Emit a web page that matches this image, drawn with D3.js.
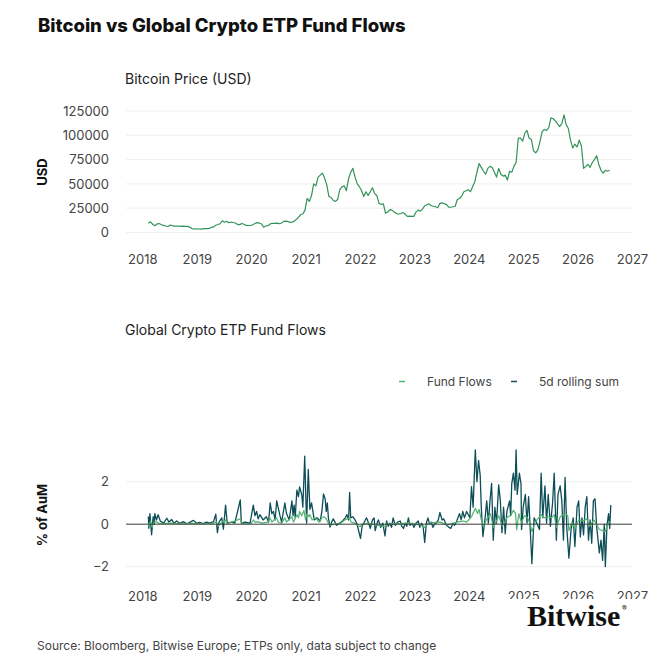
<!DOCTYPE html>
<html>
<head>
<meta charset="utf-8">
<script src="https://cdn.jsdelivr.net/npm/d3@7"></script>
<style>
body{margin:0;background:#fff;}
text{font-family:Inter, "Noto Sans", sans-serif;}
</style>
</head>
<body>
<script>
//chart data
var yearTicks = [2018,2019,2020,2021,2022,2023,2024,2025,2026,2027];
var priceTicks = [0,25000,50000,75000,100000,125000];
var flowTicks = [-2,0,2];

//bitcoin price, sampled every 0.04 year starting 2018.11
var priceStart = 2018.11, priceStep = 0.04;
var priceValues = [
  9500,11000,8500,7000,8800,9200,8000,7400,6700,6200,7500,7000,6600,6500,6600,6400,6500,6400,6300,5600,4000,3600,3800,
  3600,3500,3700,3900,4000,4100,5200,5800,7500,8200,9000,12000,10500,11500,10000,10800,10300,9800,8300,8100,9300,8500,7300,7200,7200,
  8000,9300,10200,9700,8700,5400,6700,7000,8800,9500,9300,9700,9200,9400,11200,11700,11500,10400,10700,11500,13500,15500,18500,19000,23000,
  35000,32000,38000,50000,48000,57000,59000,61000,56000,49000,37000,36000,33000,32000,34000,44000,47000,48000,43000,55000,62000,66000,57000,50000,47000,
  43000,37000,42000,38000,42000,46000,40000,38000,30000,29000,29500,20000,21000,23500,23000,21000,19500,19000,19500,20500,19000,16500,16800,16500,16600,
  21000,23000,22000,24000,27500,28500,29500,27500,27000,26500,25500,30000,30500,29500,29000,26000,26000,26500,27000,34000,35000,37500,42000,43000,44000,
  42000,47000,52000,62000,71000,67000,63000,60000,66000,68000,67000,62000,57000,66000,60000,58000,59000,54000,63000,62000,68000,72000,97000,97000,94000,
  102000,105000,97000,96000,84000,82000,85000,94000,104000,106000,105000,108000,118000,117000,115000,112000,109000,112000,121000,111000,107000,95000,87000,91000,88000,
  95000,89000,66000,68000,70000,67000,72000,75000,79000,70000,64000,61000,64000,63000,64000
];

//daily fund flows, % of AuM  [date, value]
var fundFlows = [
  [2018.11,0.05],[2018.13,-0.1],[2018.15,0.15],[2018.18,-0.15],[2018.21,0.1],[2018.25,0.12],[2018.3,0.05],[2018.4,0.03],
  [2018.5,0.05],[2018.7,0.02],[2018.9,0.04],[2019.1,0.02],[2019.3,0.03],[2019.36,0.12],[2019.39,-0.1],[2019.45,0.06],
  [2019.53,0.2],[2019.56,0.02],[2019.8,0.25],[2019.83,0.02],[2020.0,0.03],[2020.04,0.2],[2020.08,0.08],[2020.12,0.12],
  [2020.2,0.05],[2020.3,0.1],[2020.35,0.28],[2020.38,0.1],[2020.47,0.3],[2020.5,0.08],[2020.56,0.05],[2020.62,0.3],
  [2020.65,0.1],[2020.75,0.35],[2020.78,0.1],[2020.84,0.45],[2020.87,0.3],[2020.89,0.6],[2020.93,0.4],[2020.97,0.65],
  [2021.0,0.2],[2021.03,0.5],[2021.06,0.35],[2021.08,0.45],[2021.12,0.2],[2021.18,0.3],[2021.25,0.1],[2021.3,0.3],
  [2021.34,0.35],[2021.38,0.25],[2021.42,0.05],[2021.46,-0.05],[2021.55,0.02],[2021.65,0.05],[2021.72,0.2],[2021.76,0.25],
  [2021.8,0.3],[2021.84,0.1],[2021.9,0.05],[2022.0,-0.12],[2022.05,0.0],[2022.15,0.05],[2022.3,-0.05],[2022.46,-0.1],
  [2022.5,0.02],[2022.7,0.03],[2022.9,0.05],[2023.1,-0.02],[2023.19,-0.15],[2023.25,0.05],[2023.47,0.1],[2023.6,-0.03],
  [2023.83,0.12],[2023.9,0.15],[2023.96,0.1],[2024.05,0.35],[2024.12,0.75],[2024.16,0.5],[2024.19,0.7],[2024.23,0.2],
  [2024.27,-0.12],[2024.33,0.25],[2024.4,0.5],[2024.45,-0.15],[2024.5,0.1],[2024.55,0.4],[2024.62,-0.1],[2024.7,0.3],
  [2024.78,0.45],[2024.82,0.65],[2024.86,0.5],[2024.88,-0.27],[2024.92,0.5],[2024.97,0.05],[2025.02,0.4],[2025.08,0.3],
  [2025.13,0.0],[2025.16,-0.35],[2025.22,0.1],[2025.33,0.45],[2025.38,0.3],[2025.45,0.35],[2025.52,0.3],[2025.57,0.45],
  [2025.61,-0.15],[2025.68,0.35],[2025.77,0.5],[2025.82,0.4],[2025.84,-0.3],[2025.9,0.1],[2025.95,-0.2],[2026.02,0.2],
  [2026.1,0.15],[2026.17,0.25],[2026.22,-0.1],[2026.3,0.2],[2026.4,-0.25],[2026.46,-0.3],[2026.51,-0.35],[2026.55,0.0],
  [2026.61,0.15]
];

//5 day rolling sum of flows, % of AuM  [date, value]
var rollingSum = [
  [2018.11,0.36],[2018.12,-0.19],[2018.14,0.5],[2018.17,-0.5],[2018.20,0.36],[2018.22,0.0],[2018.23,0.5],[2018.26,0.2],
  [2018.29,0.45],[2018.33,0.15],[2018.39,0.05],[2018.45,0.28],[2018.49,0.1],[2018.54,0.22],[2018.58,0.05],[2018.63,0.15],
  [2018.69,0.03],[2018.75,0.12],[2018.82,0.02],[2018.88,0.1],[2018.94,0.18],[2019.00,0.05],[2019.06,0.08],[2019.12,0.03],
  [2019.18,0.1],[2019.24,0.05],[2019.31,0.12],[2019.35,0.47],[2019.38,-0.4],[2019.41,0.1],[2019.46,0.3],[2019.49,-0.23],
  [2019.53,0.9],[2019.56,0.05],[2019.64,0.1],[2019.70,0.05],[2019.80,1.14],[2019.82,0.05],[2019.89,0.1],[2019.98,0.05],
  [2020.04,0.9],[2020.07,0.4],[2020.10,0.6],[2020.13,0.25],[2020.16,0.45],[2020.22,0.2],[2020.28,0.35],[2020.32,0.1],
  [2020.35,1.0],[2020.38,0.5],[2020.41,0.6],[2020.44,0.2],[2020.47,1.1],[2020.53,0.4],[2020.56,0.1],[2020.62,1.0],
  [2020.65,0.5],[2020.70,0.2],[2020.75,1.1],[2020.77,0.4],[2020.79,0.9],[2020.81,0.3],[2020.84,1.6],[2020.87,1.3],
  [2020.89,1.75],[2020.93,1.4],[2020.95,0.8],[2020.985,3.2],[2021.01,0.8],[2021.02,0.05],[2021.05,2.58],[2021.08,0.7],
  [2021.11,1.0],[2021.16,0.2],[2021.21,0.3],[2021.27,0.15],[2021.30,0.6],[2021.33,1.42],[2021.36,1.2],[2021.38,0.6],
  [2021.40,1.0],[2021.42,0.3],[2021.45,-0.14],[2021.48,0.1],[2021.51,0.25],[2021.57,-0.05],[2021.63,0.05],[2021.68,0.15],
  [2021.73,0.3],[2021.76,0.45],[2021.79,0.2],[2021.81,1.5],[2021.83,0.3],[2021.87,0.35],[2021.91,0.2],[2021.94,0.05],
  [2021.97,-0.25],[2022.01,-0.67],[2022.04,-0.1],[2022.08,0.1],[2022.12,0.3],[2022.16,0.05],[2022.19,-0.2],[2022.23,0.2],
  [2022.26,0.3],[2022.28,-0.3],[2022.32,0.1],[2022.34,0.2],[2022.38,-0.15],[2022.42,0.05],[2022.46,-0.55],[2022.49,0.15],
  [2022.52,-0.1],[2022.55,0.05],[2022.58,-0.15],[2022.61,0.3],[2022.65,-0.05],[2022.69,0.1],[2022.74,0.15],[2022.77,-0.1],
  [2022.80,-0.2],[2022.83,0.05],[2022.86,-0.1],[2022.89,0.3],[2022.92,-0.05],[2022.96,0.05],[2022.99,-0.15],[2023.03,0.05],
  [2023.07,0.15],[2023.10,-0.15],[2023.13,0.05],[2023.16,-0.1],[2023.19,-0.86],[2023.22,0.05],[2023.25,0.3],[2023.28,0.0],
  [2023.31,0.1],[2023.34,-0.15],[2023.37,0.0],[2023.40,0.05],[2023.44,0.2],[2023.47,0.55],[2023.51,0.2],[2023.54,0.25],
  [2023.59,-0.05],[2023.64,-0.15],[2023.67,-0.2],[2023.71,0.05],[2023.74,-0.05],[2023.78,0.15],[2023.83,0.5],[2023.86,0.2],
  [2023.89,0.6],[2023.92,0.3],[2023.96,0.6],[2024.02,0.3],[2024.05,1.77],[2024.08,0.8],[2024.12,3.5],[2024.15,2.0],
  [2024.18,3.0],[2024.21,2.3],[2024.23,0.8],[2024.26,-0.58],[2024.30,0.3],[2024.33,1.1],[2024.36,0.05],[2024.39,1.1],
  [2024.42,1.92],[2024.45,-0.75],[2024.48,0.8],[2024.51,0.05],[2024.55,1.85],[2024.58,1.1],[2024.61,-0.4],[2024.64,0.8],
  [2024.67,-0.45],[2024.70,0.6],[2024.75,1.1],[2024.77,0.4],[2024.79,1.9],[2024.82,2.4],[2024.85,1.6],[2024.87,3.5],
  [2024.89,1.4],[2024.93,2.4],[2024.96,1.9],[2024.97,-0.25],[2025.00,0.8],[2025.04,1.4],[2025.07,0.05],[2025.10,1.3],
  [2025.13,-0.25],[2025.16,-1.86],[2025.20,0.3],[2025.25,0.05],[2025.30,-0.25],[2025.33,2.4],[2025.36,0.3],[2025.40,1.8],
  [2025.43,0.05],[2025.46,1.4],[2025.50,-0.1],[2025.54,1.0],[2025.57,2.4],[2025.61,-0.75],[2025.64,1.4],[2025.68,1.8],
  [2025.71,1.1],[2025.74,-0.75],[2025.77,2.2],[2025.80,-0.1],[2025.84,-1.6],[2025.88,-0.25],[2025.92,0.3],[2025.95,-1.05],
  [2025.99,0.8],[2026.02,1.1],[2026.05,-0.6],[2026.08,0.3],[2026.11,-0.5],[2026.14,0.8],[2026.17,1.3],[2026.20,-0.75],
  [2026.23,0.2],[2026.26,-0.9],[2026.29,1.1],[2026.32,1.2],[2026.35,-0.1],[2026.40,-1.35],[2026.43,-0.75],[2026.46,-1.7],
  [2026.49,0.0],[2026.51,-2.0],[2026.54,-0.05],[2026.57,0.5],[2026.59,-0.2],[2026.61,0.9]
];

var priceColor = "#32935a",
    flowColor = "#52b26f",
    rollColor = "#0d4e58";

var width = 671, height = 671;
var svg = d3.select("body").append("svg")
    .attr("width", width)
    .attr("height", height);

//shared time scale
var x = d3.scaleLinear().domain([2017.7, 2027]).range([126, 632]);
var yPrice = d3.scaleLinear().domain([0, 125000]).range([232.5, 111]);
var yFlow = d3.scaleLinear().domain([-2, 2]).range([566.7, 481.7]);

//title
svg.append("text")
    .attr("x", 38).attr("y", 32)
    .attr("font-size", 18.5).attr("font-weight", 800)
    .attr("fill", "#111")
    .text("Bitcoin vs Global Crypto ETP Fund Flows");

//------ top panel: bitcoin price
svg.append("text")
    .attr("x", 125).attr("y", 84)
    .attr("font-size", 14).attr("fill", "#222")
    .text("Bitcoin Price (USD)");

svg.selectAll(".priceGrid")
    .data(priceTicks)
    .enter().append("line")
    .attr("class", "priceGrid")
    .attr("x1", 126).attr("x2", 632)
    .attr("y1", function(d){ return yPrice(d); })
    .attr("y2", function(d){ return yPrice(d); })
    .attr("stroke", "#efefef");

var priceAxis = svg.append("g")
    .attr("transform", "translate(126,0)")
    .call(d3.axisLeft(yPrice).tickValues(priceTicks).tickSize(0).tickPadding(17).tickFormat(d3.format("d")));
styleAxis(priceAxis);

var priceXAxis = svg.append("g")
    .attr("transform", "translate(0,255)")
    .call(d3.axisBottom(x).tickValues(yearTicks).tickSize(0).tickPadding(0).tickFormat(d3.format("d")));
styleAxis(priceXAxis);

svg.append("text")
    .attr("transform", "translate(47,172) rotate(-90)")
    .attr("text-anchor", "middle")
    .attr("font-size", 13).attr("font-weight", 700).attr("fill", "#111")
    .text("USD");

var priceData = priceValues.map(function(v, i){ return [priceStart + i * priceStep, v]; });
svg.append("path")
    .datum(priceData)
    .attr("fill", "none")
    .attr("stroke", priceColor)
    .attr("stroke-width", 1.2)
    .attr("stroke-linejoin", "round")
    .attr("d", d3.line()
        .x(function(d){ return x(d[0]); })
        .y(function(d){ return yPrice(d[1]); }));

//------ bottom panel: fund flows
svg.append("text")
    .attr("x", 125).attr("y", 335)
    .attr("font-size", 14).attr("fill", "#222")
    .text("Global Crypto ETP Fund Flows");

//legend
var legendItems = [
    {name: "Fund Flows", color: flowColor, x: 399},
    {name: "5d rolling sum", color: rollColor, x: 511}
];
var legend = svg.selectAll(".legend")
    .data(legendItems)
    .enter().append("g")
    .attr("class", "legend")
    .attr("transform", function(d){ return "translate(" + d.x + ",381.5)"; });
legend.append("line")
    .attr("x1", 0).attr("x2", 6)
    .attr("stroke", function(d){ return d.color; })
    .attr("stroke-width", 1.5);
legend.append("text")
    .attr("x", 28).attr("y", 4.3)
    .attr("font-size", 12).attr("fill", "#444")
    .text(function(d){ return d.name; });

svg.selectAll(".flowGrid")
    .data(flowTicks.filter(function(d){ return d !== 0; }))
    .enter().append("line")
    .attr("class", "flowGrid")
    .attr("x1", 126).attr("x2", 632)
    .attr("y1", function(d){ return yFlow(d); })
    .attr("y2", function(d){ return yFlow(d); })
    .attr("stroke", "#efefef");

var flowAxis = svg.append("g")
    .attr("transform", "translate(126,0)")
    .call(d3.axisLeft(yFlow).tickValues(flowTicks).tickSize(0).tickPadding(17).tickFormat(d3.format("d")));
styleAxis(flowAxis);

var flowXAxis = svg.append("g")
    .attr("transform", "translate(0,592)")
    .call(d3.axisBottom(x).tickValues(yearTicks).tickSize(0).tickPadding(0).tickFormat(d3.format("d")));
styleAxis(flowXAxis);

svg.append("text")
    .attr("transform", "translate(47,515) rotate(-90)")
    .attr("text-anchor", "middle")
    .attr("font-size", 13).attr("font-weight", 700).attr("fill", "#111")
    .text("% of AuM");

var flowLine = d3.line()
    .x(function(d){ return x(d[0]); })
    .y(function(d){ return yFlow(d[1]); });

svg.append("path")
    .datum(rollingSum)
    .attr("fill", "none")
    .attr("stroke", rollColor)
    .attr("stroke-width", 1.3)
    .attr("stroke-linejoin", "round")
    .attr("d", flowLine);

svg.append("path")
    .datum(fundFlows)
    .attr("fill", "none")
    .attr("stroke", flowColor)
    .attr("stroke-width", 1.2)
    .attr("stroke-linejoin", "round")
    .attr("d", flowLine);

//zero line
svg.append("line")
    .attr("x1", 126).attr("x2", 632)
    .attr("y1", yFlow(0)).attr("y2", yFlow(0))
    .attr("stroke", "#3a3a3a")
    .attr("stroke-width", 1);

//------ footer: logo sits on a white box that clips the last year labels
svg.append("rect")
    .attr("x", 508).attr("y", 599)
    .attr("width", 140).attr("height", 32)
    .attr("fill", "#fff");
svg.append("text")
    .attr("x", 527).attr("y", 626)
    .attr("font-size", 30).attr("font-weight", 700)
    .attr("fill", "#111")
    .style("font-family", "'Liberation Serif', 'DejaVu Serif', serif")
    .text("Bitwise");
svg.append("text")
    .attr("x", 622).attr("y", 611)
    .attr("font-size", 7)
    .attr("fill", "#111")
    .text("\u00AE");

svg.append("text")
    .attr("x", 37).attr("y", 650)
    .attr("font-size", 12).attr("fill", "#444")
    .text("Source: Bloomberg, Bitwise Europe; ETPs only, data subject to change");

function styleAxis(g){
    g.select(".domain").remove();
    g.attr("font-size", 13).attr("color", "#444");
};
</script>
</body>
</html>
